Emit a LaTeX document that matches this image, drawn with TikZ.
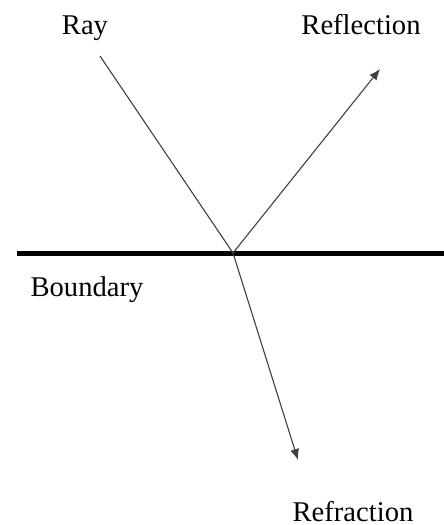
\documentclass[tikz,border=0pt]{standalone}
\usepackage{fontspec}
\setmainfont{Liberation Serif}
\usetikzlibrary{arrows.meta}

\tikzset{
  lbl/.style={font=\fontsize{14.3}{17}\selectfont, inner sep=0pt, anchor=base},
  beam/.style={draw=black!75, line width=0.55pt},
  beamarrow/.style={beam, -{Latex[length=5.5pt, width=4.5pt]}}
}

\begin{document}
\begin{tikzpicture}[x=0.5pt, y=-0.5pt]
  \useasboundingbox (0,0) rectangle (444,525);

  % points of the rays
  \coordinate (raystart) at (100,56);
  \coordinate (hit) at (233,253);
  \coordinate (reflend) at (380,69);
  \coordinate (refrend) at (298,460);
  \coordinate (bleft) at (17,253.5);
  \coordinate (bright) at (444,253.5);

  % labels
  \node[lbl] (ray) at (85,34) {Ray};
  \node[lbl] (refl) at (361,34) {Reflection};
  \node[lbl] (bound) at (87,296) {Boundary};
  \node[lbl] (refr) at (353,521) {Refraction};

  % boundary
  \draw[line width=2.3pt] (bleft) -- (bright);

  % rays
  \draw[beam] (raystart) -- (hit);
  \draw[beamarrow] (hit) -- (reflend);
  \draw[beamarrow] (hit) -- (refrend);
\end{tikzpicture}
\end{document}
